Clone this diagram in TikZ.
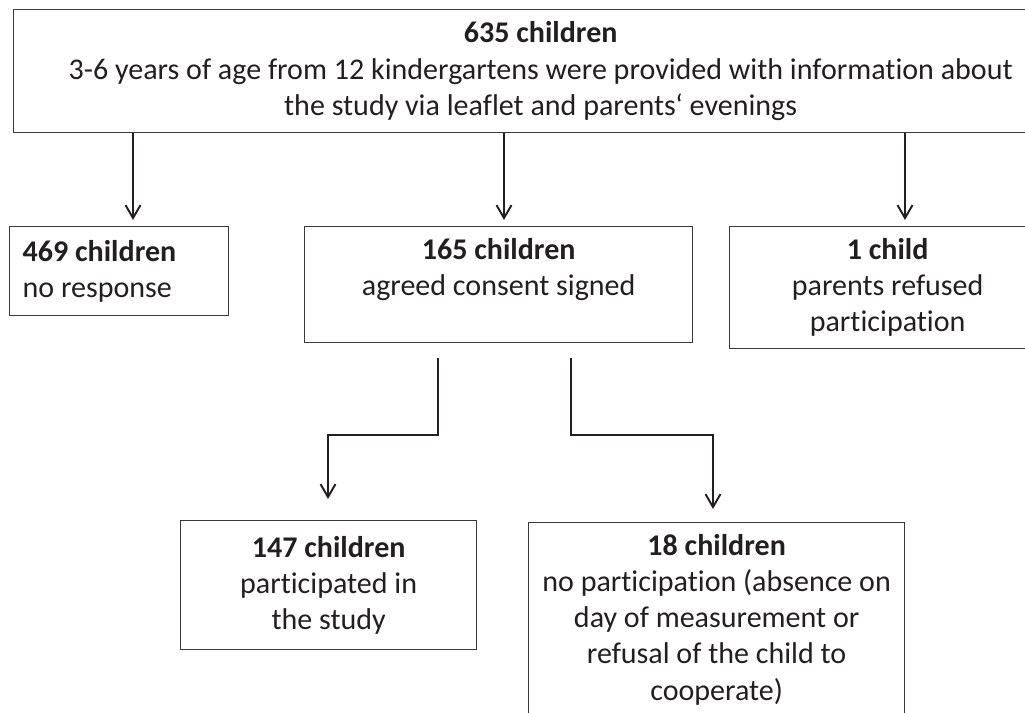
\documentclass[tikz,border=0pt]{standalone}
\usepackage{fontspec}
\setmainfont{Carlito}[Ligatures=NoCommon]
\usepackage{xcolor}
\definecolor{colorText}{HTML}{231F20}
\definecolor{colorFrame}{HTML}{3A3A3A}
\colorlet{colorArrow}{colorText}
\usetikzlibrary{arrows.meta, positioning}
\newcommand{\pxu}{0.02cm}
\tikzset{
  box/.style={draw=colorFrame, line width=0.75pt, inner sep=0pt, anchor=north west, align=center, text=colorText},
  flow/.style={->, draw=colorArrow, line width=1.1pt}
}

\begin{document}
\begin{tikzpicture}[x=\pxu, y=-\pxu, >={Straight Barb[length=0.26cm,width=0.3cm]}, font=\fontsize{17.1}{20.6}\selectfont]
\clip (0,0) rectangle (1025,713);
% boxes
\node[box, minimum width=1054*\pxu, minimum height=123*\pxu] (c635) at (13,9) {\textbf{635 children}\\3-6 years of age from 12 kindergartens were provided with information about\hspace*{0.64cm}\\the study via leaflet and parents‘ evenings};
\node[box, align=flush left, inner xsep=13*\pxu, text width=193*\pxu, minimum height=89*\pxu] (c469) at (9,226) {\textbf{469 children}\\no response};
\node[box, minimum width=388*\pxu, minimum height=116*\pxu] (c165) at (304,226) {\textbf{165 children}\\agreed consent signed\\~};
\node[box, minimum width=316*\pxu, minimum height=122*\pxu] (c1) at (729,226) {\textbf{1 child}\\parents refused\\participation};
\node[box, minimum width=296*\pxu, minimum height=129*\pxu] (c147) at (180,520) {\textbf{147 children}\\participated in\\the study};
\node[box, minimum width=376*\pxu, minimum height=194*\pxu] (c18) at (528,522) {\textbf{18 children}\\no participation (absence on\\day of measurement or\\refusal of the child to\\cooperate)};
% arrow ends
\coordinate (t469) at (133,220);
\coordinate (t165) at (504,220);
\coordinate (t1) at (905,220);
\coordinate (s147) at (438,358);
\coordinate (t147) at (328,499);
\coordinate (s18) at (571,358);
\coordinate (t18) at (713,509);
% arrows
\draw[flow] (c635.south -| t469) -- (t469);
\draw[flow] (c635.south -| t165) -- (t165);
\draw[flow] (c635.south -| t1) -- (t1);
\draw[flow] (s147) -- ++(0,77) -| (t147);
\draw[flow] (s18) -- ++(0,77) -| (t18);
\end{tikzpicture}
\end{document}
